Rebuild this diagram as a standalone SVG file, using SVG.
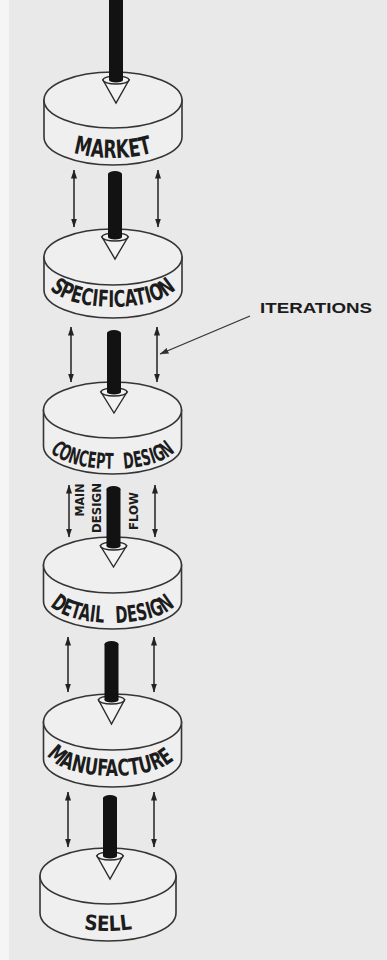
<svg xmlns="http://www.w3.org/2000/svg" xmlns:xlink="http://www.w3.org/1999/xlink" width="387" height="960" viewBox="0 0 387 960">
<style>
.cyl{fill:#efefef;stroke:#353535;stroke-width:1.6}
.lbl{font-family:"DejaVu Sans Condensed","DejaVu Sans","Liberation Sans",sans-serif;font-weight:bold;fill:#1c1c1c;font-stretch:condensed}
.guide{fill:none;stroke:none}
.shaft{fill:#121212}
.head{fill:#f3f3f3;stroke:#2a2a2a;stroke-width:1.4}
.iter{stroke:#222;stroke-width:1.5;fill:none;marker-start:url(#ah);marker-end:url(#ah)}
.lead{stroke:#333;stroke-width:1.3;fill:none;marker-end:url(#ah2)}
.note{font-family:"Liberation Sans",Arial,sans-serif;font-weight:bold;fill:#1c1c1c}
</style>
<defs>
<marker id="ah" viewBox="0 0 9 6" refX="8.5" refY="3" markerWidth="9" markerHeight="6" markerUnits="userSpaceOnUse" orient="auto-start-reverse"><path d="M0,0 L9,3 L0,6 Z" fill="#222"/></marker>
<marker id="ah2" viewBox="0 0 9 6" refX="8.5" refY="3" markerWidth="9" markerHeight="6" markerUnits="userSpaceOnUse" orient="auto"><path d="M0,0 L9,3 L0,6 Z" fill="#333"/></marker>
</defs>
<rect x="0" y="0" width="387" height="960" fill="#e9e9e9"/>
<rect x="0" y="0" width="9" height="960" fill="#f5f5f5"/>

<g id="market">
<path class="cyl" d="M44,100 L44,137 A69,28 0 0 0 182,137 L182,100 Z"/>
<ellipse class="cyl" cx="113" cy="100" rx="69" ry="28"/>
<path id="p-market" class="guide" d="M47,132 A66,26 0 0 0 179,132"/>
<text class="lbl" font-size="25"><textPath href="#p-market" startOffset="50%" text-anchor="middle" textLength="80" lengthAdjust="spacingAndGlyphs">MARKET</textPath></text>
</g>

<g id="specification">
<path class="cyl" d="M44,257 L44,290 A69,28 0 0 0 182,290 L182,257 Z"/>
<ellipse class="cyl" cx="113" cy="257" rx="69" ry="28"/>
<path id="p-spec" class="guide" d="M47,281 A66,26 0 0 0 179,281"/>
<text class="lbl" font-size="23"><textPath href="#p-spec" startOffset="50%" text-anchor="middle" textLength="134" lengthAdjust="spacingAndGlyphs">SPECIFICATION</textPath></text>
</g>

<g id="concept-design">
<path class="cyl" d="M43.5,410 L43.5,446 A69,28 0 0 0 181.5,446 L181.5,410 Z"/>
<ellipse class="cyl" cx="112.5" cy="410" rx="69" ry="28"/>
<path id="p-concept" class="guide" d="M46.5,443 A66,26 0 0 0 178.5,443"/>
<text class="lbl" font-size="22"><textPath href="#p-concept" startOffset="50%" text-anchor="middle" textLength="132" lengthAdjust="spacingAndGlyphs">CONCEPT<tspan dx="10"> DESIGN</tspan></textPath></text>
</g>

<g id="detail-design">
<path class="cyl" d="M43.5,565 L43.5,601 A69,28 0 0 0 181.5,601 L181.5,565 Z"/>
<ellipse class="cyl" cx="112.5" cy="565" rx="69" ry="28"/>
<path id="p-detail" class="guide" d="M46.5,597 A66,26 0 0 0 178.5,597"/>
<text class="lbl" font-size="23"><textPath href="#p-detail" startOffset="50%" text-anchor="middle" textLength="132" lengthAdjust="spacingAndGlyphs">DETAIL<tspan dx="10"> DESIGN</tspan></textPath></text>
</g>

<g id="manufacture">
<path class="cyl" d="M43.5,722 L43.5,759 A69,28 0 0 0 181.5,759 L181.5,722 Z"/>
<ellipse class="cyl" cx="112.5" cy="722" rx="69" ry="28"/>
<path id="p-manuf" class="guide" d="M46.5,750 A66,26 0 0 0 178.5,750"/>
<text class="lbl" font-size="23"><textPath href="#p-manuf" startOffset="48%" text-anchor="middle" textLength="136" lengthAdjust="spacingAndGlyphs">MANUFACTURE</textPath></text>
</g>

<g id="sell">
<path class="cyl" d="M40,876 L40,913 A68,28 0 0 0 176,913 L176,876 Z"/>
<ellipse class="cyl" cx="108" cy="876" rx="68" ry="28"/>
<path id="p-sell" class="guide" d="M42,905 A66,26 0 0 0 174,905"/>
<text class="lbl" font-size="21"><textPath href="#p-sell" startOffset="50%" text-anchor="middle" textLength="49" lengthAdjust="spacingAndGlyphs">SELL</textPath></text>
</g>

<g id="connectors">
<g id="flow-1">
<path class="head" d="M103,80 L129,80 L116,103 Z"/>
<ellipse class="head" cx="116" cy="80" rx="13" ry="4"/>
<rect class="shaft" x="109" y="-5" width="14" height="85"/>
<ellipse class="shaft" cx="116" cy="80" rx="7" ry="2.5"/>
</g>
<g id="flow-2">
<path class="head" d="M102,237 L128,237 L115,259 Z"/>
<ellipse class="head" cx="115" cy="237" rx="13" ry="4"/>
<rect class="shaft" x="108" y="174" width="14" height="63"/>
<ellipse class="shaft" cx="115" cy="237" rx="7" ry="2.5"/>
<ellipse class="shaft" cx="115" cy="174" rx="7" ry="3"/>
</g>
<g id="flow-3">
<path class="head" d="M101,392 L127,392 L114,413 Z"/>
<ellipse class="head" cx="114" cy="392" rx="13" ry="4"/>
<rect class="shaft" x="107" y="333" width="14" height="59"/>
<ellipse class="shaft" cx="114" cy="392" rx="7" ry="2.5"/>
<ellipse class="shaft" cx="114" cy="333" rx="7" ry="3"/>
</g>
<g id="flow-4">
<path class="head" d="M100.5,546 L126.5,546 L113.5,567 Z"/>
<ellipse class="head" cx="113.5" cy="546" rx="13" ry="4"/>
<rect class="shaft" x="106.5" y="489" width="14" height="57"/>
<ellipse class="shaft" cx="113.5" cy="546" rx="7" ry="2.5"/>
<ellipse class="shaft" cx="113.5" cy="489" rx="7" ry="3"/>
</g>
<g id="flow-5">
<path class="head" d="M98.5,700 L124.5,700 L111.5,724 Z"/>
<ellipse class="head" cx="111.5" cy="700" rx="13" ry="4"/>
<rect class="shaft" x="104.5" y="644" width="14" height="56"/>
<ellipse class="shaft" cx="111.5" cy="700" rx="7" ry="2.5"/>
<ellipse class="shaft" cx="111.5" cy="644" rx="7" ry="3"/>
</g>
<g id="flow-6">
<path class="head" d="M97,856 L123,856 L110,879 Z"/>
<ellipse class="head" cx="110" cy="856" rx="13" ry="4"/>
<rect class="shaft" x="103" y="798" width="14" height="58"/>
<ellipse class="shaft" cx="110" cy="856" rx="7" ry="2.5"/>
<ellipse class="shaft" cx="110" cy="798" rx="7" ry="3"/>
</g>
<line class="iter" x1="74" y1="170" x2="74" y2="227"/>
<line class="iter" x1="158" y1="170" x2="158" y2="227"/>
<line class="iter" x1="71" y1="327" x2="71" y2="382"/>
<line class="iter" x1="157" y1="327" x2="157" y2="382"/>
<line class="iter" x1="69" y1="485" x2="69" y2="537"/>
<line class="iter" x1="155" y1="485" x2="155" y2="537"/>
<line class="iter" x1="68" y1="637" x2="68" y2="692"/>
<line class="iter" x1="154" y1="637" x2="154" y2="692"/>
<line class="iter" x1="68" y1="792" x2="68" y2="847"/>
<line class="iter" x1="154" y1="792" x2="154" y2="847"/>
<line class="lead" x1="250" y1="316" x2="160" y2="354"/>
</g>

<g id="labels">
<text class="note" x="260" y="313" font-size="15" textLength="112" lengthAdjust="spacingAndGlyphs">ITERATIONS</text>
<text class="lbl" font-size="12" text-anchor="middle" transform="translate(83.5,500) rotate(-90)" textLength="33" lengthAdjust="spacingAndGlyphs">MAIN</text>
<text class="lbl" font-size="12" text-anchor="middle" transform="translate(100.5,508) rotate(-90)" textLength="50" lengthAdjust="spacingAndGlyphs">DESIGN</text>
<text class="lbl" font-size="12" text-anchor="middle" transform="translate(137.5,511) rotate(-90)" textLength="38" lengthAdjust="spacingAndGlyphs">FLOW</text>
</g>
</svg>
